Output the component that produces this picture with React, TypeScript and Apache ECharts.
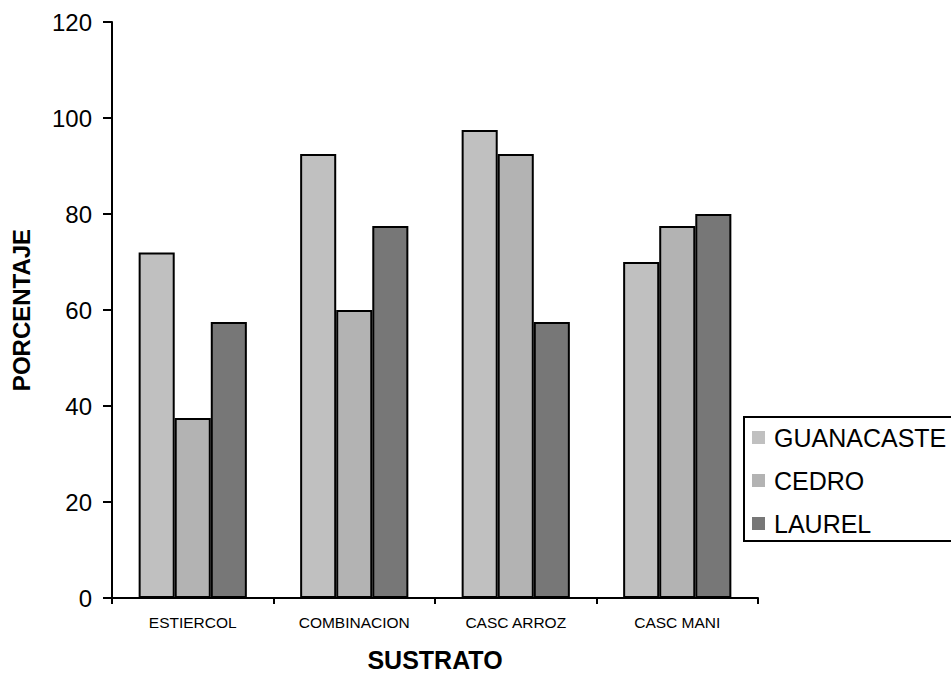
import React, { useEffect, useRef } from "react";
import * as echarts from "echarts";

// Substrate categories and germination percentage per species
const categories = ["ESTIERCOL", "COMBINACION", "CASC ARROZ", "CASC MANI"];
const guanacaste = [72, 92.5, 97.5, 70];
const cedro = [37.5, 60, 92.5, 77.5];
const laurel = [57.5, 77.5, 57.5, 80];
const yTicks = { min: 0, max: 120, interval: 20 };

const FONT = "'Liberation Sans', Arial, Helvetica, sans-serif";

export default function App() {
  const ref = useRef<HTMLDivElement>(null);

  useEffect(() => {
    if (!ref.current) return;
    const chart = echarts.init(ref.current, undefined, { renderer: "svg" });

    const bar = (name: string, data: number[], color: string) => ({
      name,
      type: "bar",
      data,
      barGap: "0%",
      barCategoryGap: "33%",
      itemStyle: { color, borderColor: "#000", borderWidth: 2 },
      emphasis: { disabled: true },
    });

    chart.setOption({
      animation: false,
      backgroundColor: "#fff",
      textStyle: { fontFamily: FONT, color: "#000" },
      grid: { left: 112, right: 193, top: 22, bottom: 73, containLabel: false },
      legend: {
        orient: "vertical",
        left: 744,
        top: 417,
        padding: [8, 30, 5, 8],
        borderColor: "#000",
        borderWidth: 2,
        itemWidth: 13,
        itemHeight: 13,
        itemGap: 18,
        icon: "rect",
        itemStyle: { borderWidth: 0 },
        textStyle: { fontSize: 25, color: "#000", fontFamily: FONT, padding: [0, 0, 0, 4] },
        data: ["GUANACASTE", "CEDRO", "LAUREL"],
      },
      xAxis: {
        type: "category",
        data: categories,
        name: "SUSTRATO",
        nameLocation: "middle",
        nameGap: 49,
        nameTextStyle: { fontSize: 25, fontWeight: "bold", color: "#000", fontFamily: FONT },
        axisLine: { lineStyle: { color: "#000", width: 2 } },
        axisTick: { show: true, length: 6, lineStyle: { color: "#000", width: 2 } },
        axisLabel: { fontSize: 15.5, color: "#000", margin: 16, fontFamily: FONT },
        splitLine: { show: false },
      },
      yAxis: {
        type: "value",
        min: yTicks.min,
        max: yTicks.max,
        interval: yTicks.interval,
        name: "PORCENTAJE",
        nameLocation: "middle",
        nameGap: 79,
        nameRotate: 90,
        nameTextStyle: { fontSize: 24, fontWeight: "bold", color: "#000", fontFamily: FONT },
        axisLine: { show: true, lineStyle: { color: "#000", width: 2 } },
        axisTick: { show: true, length: 9, lineStyle: { color: "#000", width: 2 } },
        axisLabel: { fontSize: 24, color: "#000", margin: 20, fontFamily: FONT },
        splitLine: { show: false },
      },
      series: [
        bar("GUANACASTE", guanacaste, "#c0c0c0"),
        bar("CEDRO", cedro, "#b3b3b3"),
        bar("LAUREL", laurel, "#777777"),
      ],
    });

    return () => chart.dispose();
  }, []);

  return (
    <div
      ref={ref}
      style={{ position: "fixed", left: 0, top: 0, width: 951, height: 677, background: "#fff" }}
    />
  );
}
